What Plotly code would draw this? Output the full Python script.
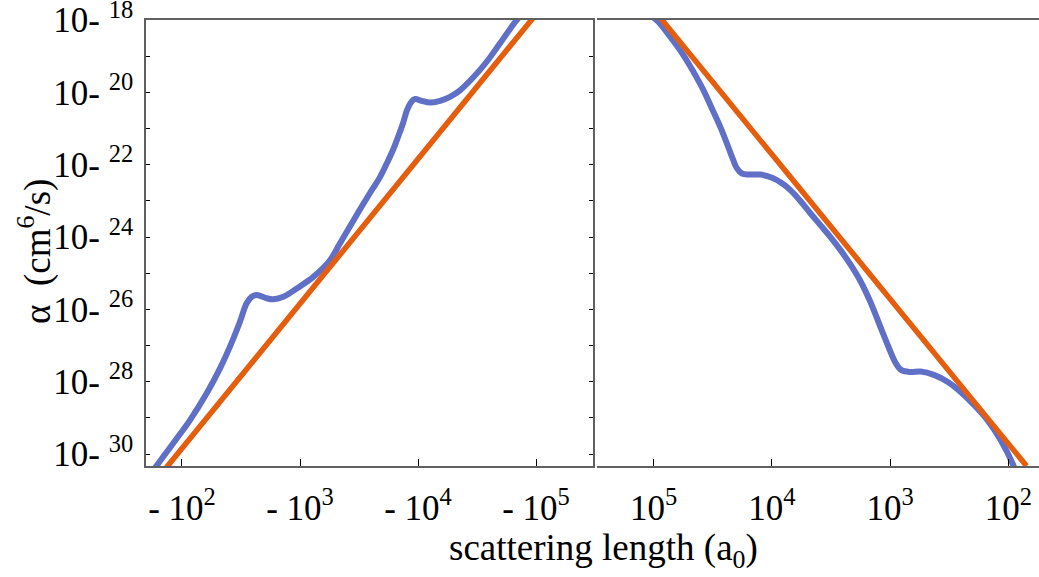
import plotly.graph_objects as go

# ---- data ----
# left panel (negative scattering length, a0)
left_blue_a = [-52.5, -62.9, -84.3, -117, -162, -210, -255, -310, -353, -390, -430, -522, -594,
               -723, -938, -1297, -1795, -2183, -2655, -3228, -3917, -4764, -5458, -6138, -6776,
               -7464, -8072, -8730, -9441, -10740, -12647, -15382, -18664, -22699, -29444,
               -38194, -49545, -67764, -75858]
left_blue_alpha = [2.40e-31, 5.50e-31, 2.00e-30, 8.71e-30, 4.79e-29, 2.34e-28, 9.33e-28, 4.57e-27,
                   1.48e-26, 2.24e-26, 2.51e-26, 2.04e-26, 1.91e-26, 2.24e-26, 3.80e-26, 7.94e-26,
                   2.29e-25, 6.76e-25, 2.00e-24, 5.89e-24, 1.66e-23, 4.57e-23, 1.12e-22, 2.57e-22,
                   5.89e-22, 1.41e-21, 3.24e-21, 5.37e-21, 6.61e-21, 5.89e-21, 5.25e-21, 5.89e-21,
                   7.59e-21, 1.15e-20, 2.63e-20, 7.08e-20, 2.29e-19, 9.55e-19, 1.41e-18]
left_orange_a = [-60, -100, -1000, -10000, -100000]
left_orange_alpha = [1.86e-31, 1.45e-30, 1.45e-26, 1.45e-22, 1.45e-18]

# right panel (positive scattering length, a0)
right_blue_a = [104713, 90991, 72444, 55847, 46026, 37844, 32137, 27290, 23988, 21727, 19724,
                17906, 15740, 12503, 9954, 8204, 6966, 5728, 4721, 3882, 3192, 2624, 2173, 1778,
                1462, 1205, 1030, 897, 800, 670, 551, 426, 327, 253, 195, 150, 116, 92.0, 85.1]
right_blue_alpha = [1.32e-18, 8.91e-19, 3.47e-19, 1.07e-19, 3.72e-20, 1.15e-20, 3.63e-21, 1.12e-21,
                    3.89e-22, 1.66e-22, 7.94e-23, 5.75e-23, 5.37e-23, 5.37e-23, 4.37e-23, 3.09e-23,
                    2.00e-23, 1.00e-23, 4.57e-24, 2.14e-24, 1.00e-24, 4.37e-25, 1.78e-25, 6.03e-26,
                    1.58e-26, 3.24e-27, 9.12e-28, 3.31e-28, 2.09e-28, 1.86e-28, 1.91e-28, 1.55e-28,
                    1.00e-28, 5.25e-29, 2.29e-29, 8.71e-30, 2.45e-30, 5.50e-31, 2.82e-31]
right_orange_a = [120000, 100000, 10000, 1000, 100, 70]
right_orange_alpha = [4.0e-18, 1.95e-18, 1.95e-22, 1.95e-26, 1.95e-30, 4.68e-31]

x_tick_vals = [100, 1000, 10000, 100000]
left_x_tick_text = ["-\u00a010<sup>2</sup>", "-\u00a010<sup>3</sup>", "-\u00a010<sup>4</sup>", "-\u00a010<sup>5</sup>"]
right_x_tick_text = ["10<sup>2</sup>", "10<sup>3</sup>", "10<sup>4</sup>", "10<sup>5</sup>"]
y_exponents = list(range(-30, -17))
y_tick_vals = [10.0 ** e for e in y_exponents]
y_tick_text = [("10-\u00a0<sup>%d</sup>" % (-e)) if e % 2 == 0 else "" for e in y_exponents]

BLUE = "#5F70C6"
ORANGE = "#E55E0E"
FRAME = "#606060"
FONT = "Liberation Serif, Times New Roman, serif"

fig = go.Figure()
fig.add_trace(go.Scatter(x=[abs(v) for v in left_blue_a], y=left_blue_alpha, mode="lines",
                         line=dict(color=BLUE, width=6, shape="spline", smoothing=1.0),
                         xaxis="x", yaxis="y", showlegend=False, hoverinfo="skip"))
fig.add_trace(go.Scatter(x=[abs(v) for v in left_orange_a], y=left_orange_alpha, mode="lines",
                         line=dict(color=ORANGE, width=5.5),
                         xaxis="x", yaxis="y", showlegend=False, hoverinfo="skip"))
fig.add_trace(go.Scatter(x=right_blue_a, y=right_blue_alpha, mode="lines",
                         line=dict(color=BLUE, width=6, shape="spline", smoothing=1.0),
                         xaxis="x2", yaxis="y2", showlegend=False, hoverinfo="skip"))
fig.add_trace(go.Scatter(x=right_orange_a, y=right_orange_alpha, mode="lines",
                         line=dict(color=ORANGE, width=5.5),
                         xaxis="x2", yaxis="y2", showlegend=False, hoverinfo="skip"))

W, H = 1039, 577
xl0, xl1 = 146 / W, 593 / W
xr0, xr1 = 597 / W, 1.0
y0, y1 = 1 - 466 / H, 1 - 20 / H

tickfont = dict(family=FONT, size=35, color="black")
common_x = dict(type="log", showgrid=False, zeroline=False, showline=True, linecolor=FRAME,
                linewidth=1.5, mirror=True, ticks="inside", ticklen=7, tickwidth=1.2,
                tickcolor="black", tickvals=x_tick_vals, tickfont=tickfont,
                ticklabelstandoff=10, ticklabeloverflow="allow", automargin=False)

fig.update_layout(
    width=W, height=H,
    margin=dict(l=0, r=0, t=0, b=0, autoexpand=False),
    paper_bgcolor="white", plot_bgcolor="white",
    xaxis=dict(domain=[xl0, xl1], range=[1.695, 5.483], ticktext=left_x_tick_text, anchor="y",
               **common_x),
    xaxis2=dict(domain=[xr0, xr1], range=[5.479, 1.74], ticktext=right_x_tick_text, anchor="y2",
                **common_x),
    yaxis=dict(domain=[y0, y1], type="log", range=[-30.33, -17.995], showgrid=False, zeroline=False,
               showline=True, linecolor=FRAME, linewidth=1.5, mirror="ticks", ticks="inside",
               ticklen=4, tickwidth=1.2, tickcolor="black", tickvals=y_tick_vals,
               ticktext=y_tick_text, tickfont=tickfont, anchor="x", ticklabelstandoff=4,
               ticklabeloverflow="allow", automargin=False),
    yaxis2=dict(domain=[y0, y1], type="log", range=[-30.33, -17.995], showgrid=False, zeroline=False,
                showline=False, ticks="", showticklabels=False, anchor="x2", automargin=False),
    annotations=[
        dict(text="scattering length (a<sub>0</sub>)", x=603 / W, y=1 - 550 / H,
             xref="paper", yref="paper", showarrow=False, xanchor="center", yanchor="middle",
             font=dict(family=FONT, size=37, color="black")),
        dict(text="α\u00a0\u00a0(cm<sup>6</sup>/s)", x=35 / W, y=1 - 252 / H,
             xref="paper", yref="paper", showarrow=False, xanchor="center", yanchor="middle",
             textangle=-90, font=dict(family=FONT, size=37, color="black")),
    ],
)

fig.write_html("out.html", config={"displayModeBar": False},
               post_script="document.body.style.margin='0';document.body.style.overflow='hidden';")
